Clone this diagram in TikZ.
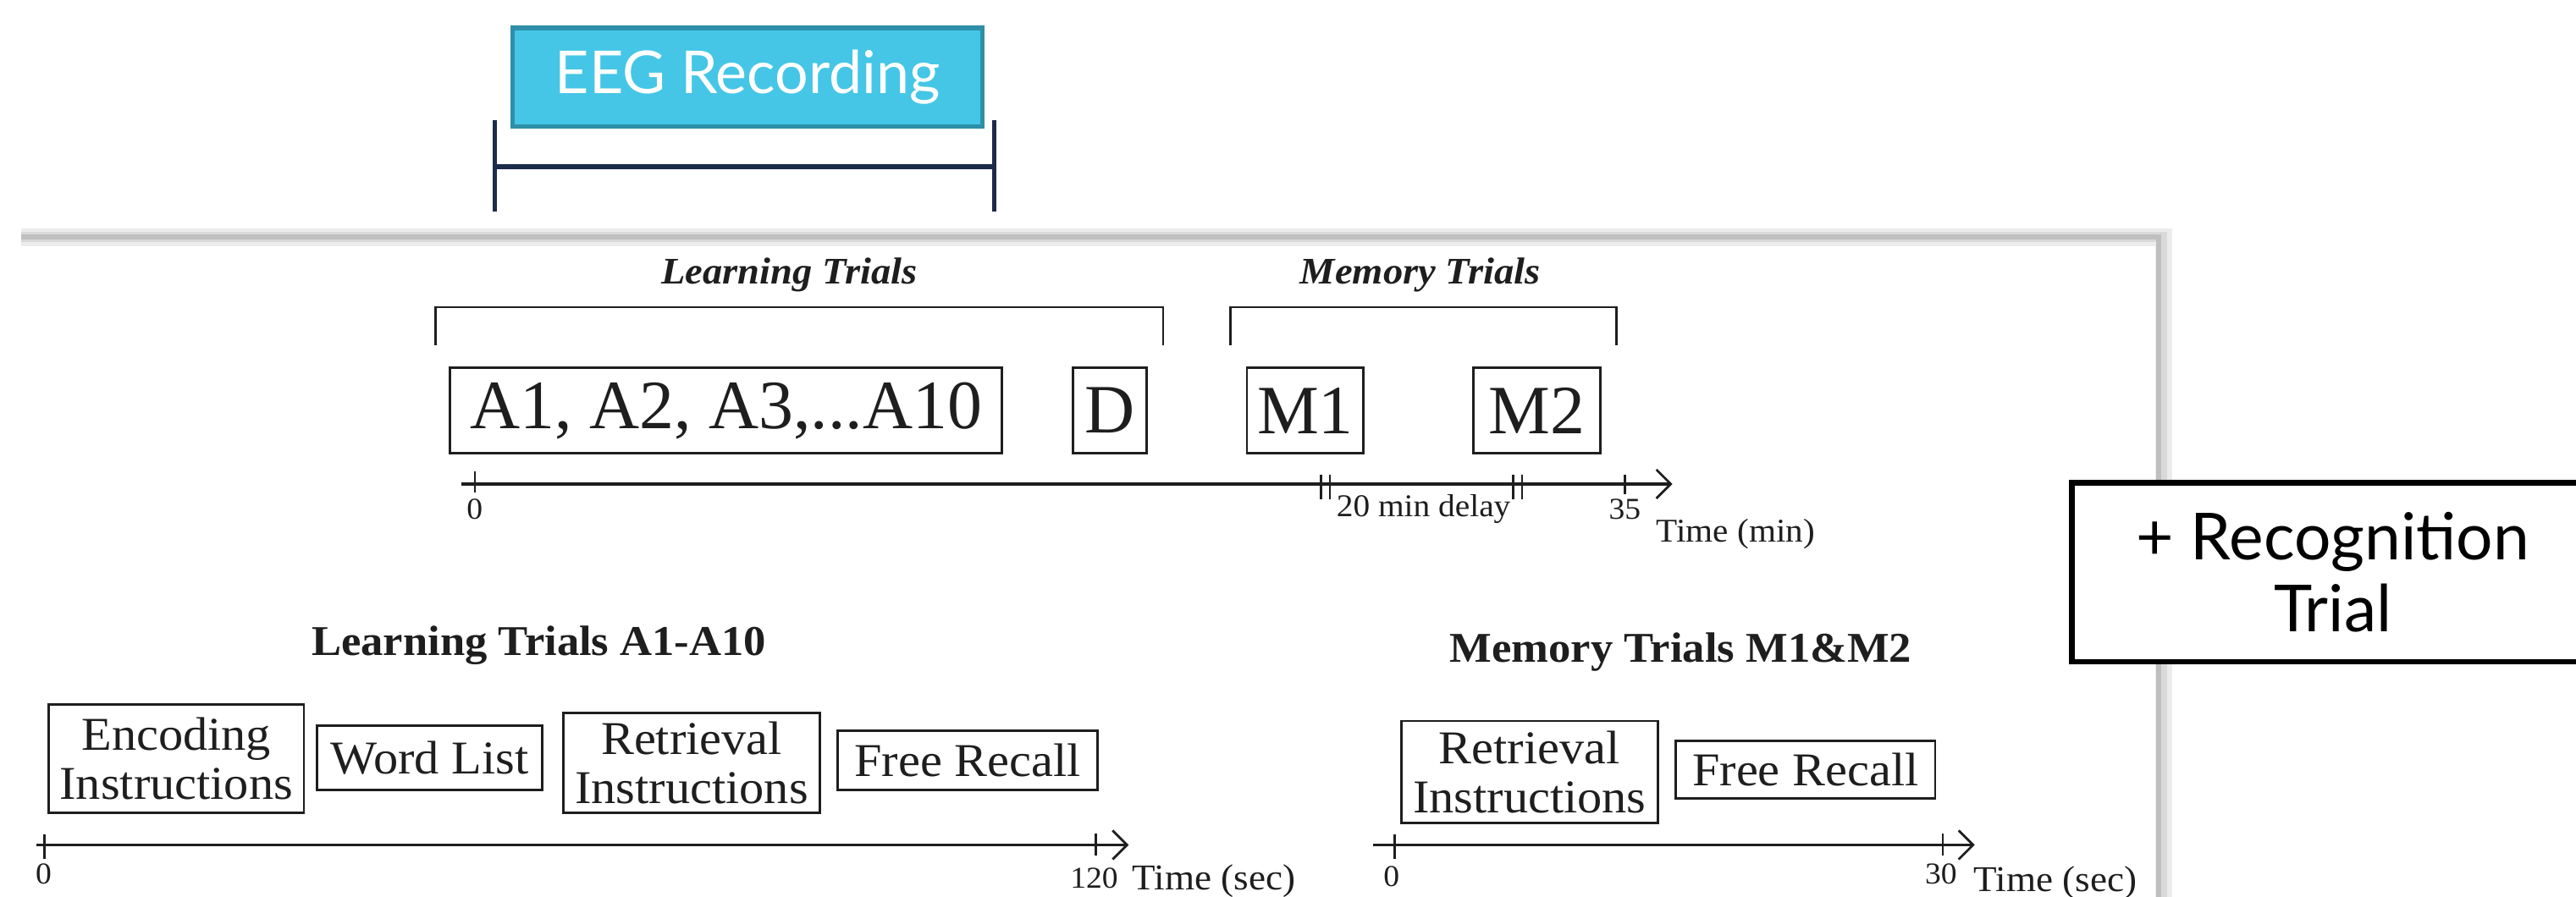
\documentclass[tikz,border=0pt]{standalone}
\usepackage{fontspec}
\setmainfont{Liberation Serif}
\newfontfamily\tms[FakeStretch=1.05]{Liberation Serif}
\newfontfamily\tmsn{Liberation Serif}
\newfontfamily\gill{Lato}
\usetikzlibrary{arrows.meta}
\definecolor{eegfill}{HTML}{45C6E6}
\definecolor{eegedge}{HTML}{2E8FA8}
\definecolor{navy}{HTML}{1C2B4A}
\definecolor{ink}{HTML}{1E1E1E}
\begin{document}
\begin{tikzpicture}[x=0.02cm,y=-0.02cm,
  box/.style={draw=ink, line width=0.8pt, inner sep=0pt, text=ink, align=center},
  bigtxt/.style={font=\tmsn\fontsize{24}{27}\selectfont},
  boxtxt/.style={font=\tms\fontsize{16.3}{17}\selectfont},
  headit/.style={font=\tms\bfseries\itshape\fontsize{13}{15}\selectfont, text=ink, anchor=base},
  headbf/.style={font=\tms\bfseries\fontsize{14.7}{17}\selectfont, text=ink, anchor=base},
  small/.style={font=\tms\fontsize{11}{13}\selectfont, text=ink, anchor=base, inner sep=0pt},
  num/.style={font=\tms\fontsize{10.5}{12}\selectfont, text=ink, anchor=base, inner sep=0pt},
  tl/.style={draw=ink, line width=1pt, -{Straight Barb[length=5pt,width=10pt,line width=0.8pt]}},
  tick/.style={draw=ink, line width=0.8pt},
  brk/.style={draw=ink, line width=0.8pt},
  eegbar/.style={draw=navy, line width=1.5pt}]

\clip (0,0) rectangle (1568,546);
\fill[white] (0,0) rectangle (1568,546);

% panel with shadow
\draw[gray!15, line width=6pt] (13,144.5) -- (1317,144.5) -- (1317,560);
\draw[gray!30, line width=3.5pt] (13,144.5) -- (1316,144.5) -- (1316,560);
\draw[gray!50, line width=1.8pt] (13,144.5) -- (1314,144.5) -- (1314,560);

% EEG recording
\node[fill=eegfill, draw=eegedge, line width=1.5pt, minimum width=5.72cm, minimum height=1.2cm,
      font=\gill\fontsize{20.5}{24}\selectfont, text=white] (eeg) at (455,47) {EEG Recording};
\coordinate (eegL1) at (301,73); \coordinate (eegL2) at (301,129);
\coordinate (eegR1) at (605,73); \coordinate (eegR2) at (605,129);
\coordinate (eegLm) at (301,101.5); \coordinate (eegRm) at (605,101.5);
\draw[eegbar] (eegL1) -- (eegL2);
\draw[eegbar] (eegR1) -- (eegR2);
\draw[eegbar] (eegLm) -- (eegRm);

% headings
\node[headit] (lt) at (480.5,173) {Learning Trials};
\node[headit] (mt) at (864.5,173) {Memory Trials};

% brackets
\coordinate (lb1) at (265,210); \coordinate (lb2) at (265,187);
\coordinate (lb3) at (708,187); \coordinate (lb4) at (708,210);
\draw[brk] (lb1) -- (lb2) -- (lb3) -- (lb4);
\coordinate (mb1) at (749,210); \coordinate (mb2) at (749,187);
\coordinate (mb3) at (984,187); \coordinate (mb4) at (984,210);
\draw[brk] (mb1) -- (mb2) -- (mb3) -- (mb4);

% top boxes
\node[box, bigtxt, minimum width=6.72cm, minimum height=1.04cm] (A) at (442,250) {A1, A2, A3,...A10};
\node[box, bigtxt, minimum width=0.90cm, minimum height=1.04cm] (D) at (675.5,250) {D};
\node[box, bigtxt, minimum width=1.42cm, minimum height=1.04cm] (M1) at (794.5,250) {M1};
\node[box, bigtxt, minimum width=1.54cm, minimum height=1.04cm] (M2) at (935.5,250) {M2};

% top timeline
\coordinate (t1s) at (281,294.7); \coordinate (t1e) at (1018,294.7);
\draw[tl] (t1s) -- (t1e);
\draw[tick] (289,287) -- (289,300);
\draw[tick] (804,289) -- (804,304);
\draw[tick] (809.5,289) -- (809.5,304);
\draw[tick] (921,289) -- (921,304);
\draw[tick] (926.5,289) -- (926.5,304);
\draw[tick] (989,289) -- (989,301);
\node[num] (z1) at (289,316) {0};
\node[small] (delay) at (866.5,314.5) {20 min delay};
\node[num] (n35) at (989,316) {35};
\node[small, font=\tms\fontsize{11.5}{13}\selectfont] (tmin) at (1056.5,330) {Time (min)};

% recognition
\node[draw=black, fill=white, line width=1.9pt, minimum width=6.36cm, minimum height=2.18cm, align=center,
      font=\gill\fontsize{22.5}{25}\selectfont, text=black] (rec) at (1420,348.5) {+ Recognition\\Trial};

% lower headings
\node[headbf] (lta) at (328,399) {Learning Trials A1-A10};
\node[headbf] (mtm) at (1023,403) {Memory Trials M1\&M2};

% lower-left boxes
\node[box, boxtxt, minimum width=3.108cm, minimum height=1.32cm] (enc) at (107.3,462) {Encoding\\Instructions};
\node[box, boxtxt, minimum width=2.74cm, minimum height=0.78cm] (wl) at (261.5,461.5) {Word List};
\node[box, boxtxt, minimum width=3.12cm, minimum height=1.22cm] (ri1) at (421,464.5) {Retrieval\\Instructions};
\node[box, boxtxt, minimum width=3.16cm, minimum height=0.72cm] (fr1) at (589,463) {Free Recall};

% lower-right boxes
\node[box, boxtxt, minimum width=3.12cm, minimum height=1.24cm] (ri2) at (931,470) {Retrieval\\Instructions};
\node[box, boxtxt, minimum width=3.16cm, minimum height=0.70cm] (fr2) at (1099,468.5) {Free Recall};

% lower-left timeline
\coordinate (t2s) at (22,514.5); \coordinate (t2e) at (687,514.5);
\draw[tl] (t2s) -- (t2e);
\draw[tick] (27,508) -- (27,523);
\draw[tick] (667,507.5) -- (667,521);
\node[num] (z2) at (26.5,538) {0};
\node[num] (n120) at (666,541) {120};
\node[small, font=\tms\fontsize{12.6}{14}\selectfont] (ts1) at (739,542) {Time (sec)};

% lower-right timeline
\coordinate (t3s) at (836,514.5); \coordinate (t3e) at (1202,514.5);
\draw[tl] (t3s) -- (t3e);
\draw[tick] (849,508) -- (849,523);
\draw[tick] (1182.5,507.5) -- (1182.5,521);
\node[num] (z3) at (847,540) {0};
\node[num] (n30) at (1181.5,538) {30};
\node[small, font=\tms\fontsize{12.6}{14}\selectfont] (ts2) at (1251,543) {Time (sec)};
\end{tikzpicture}
\end{document}
